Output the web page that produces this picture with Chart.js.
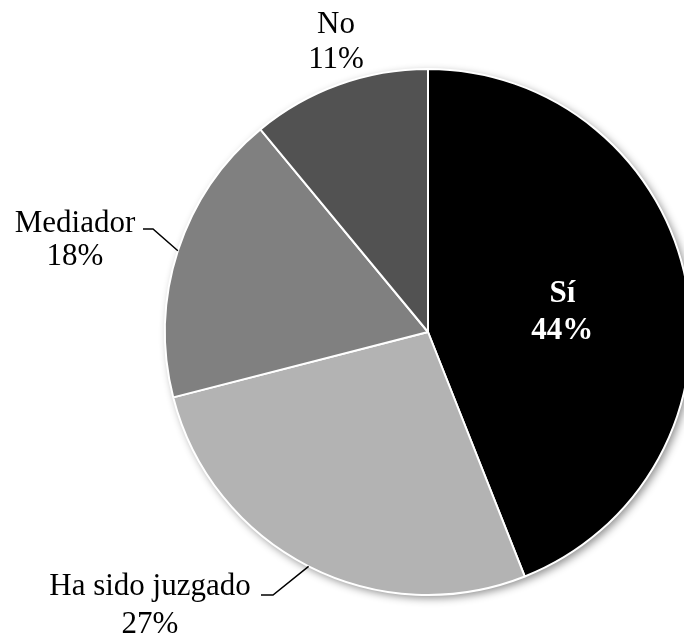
<!DOCTYPE html>
<html>
<head>
<meta charset="utf-8">
<script src="https://cdn.jsdelivr.net/npm/chart.js@4/dist/chart.umd.min.js"></script>
<style>
  html, body { margin: 0; padding: 0; background: #fff; overflow: hidden; width: 684px; height: 635px; }
  canvas { display: block; }
</style>
</head>
<body>
<canvas id="c" width="720" height="635"></canvas>
<script>
// Answers and their shares (%)
const categories = ['Sí', 'Ha sido juzgado', 'Mediador', 'No'];
const shares = [44, 27, 18, 11];
const sliceColors = ['#000000', '#b3b3b3', '#808080', '#525252'];

const FONT = '"Liberation Serif", "Times New Roman", serif';

// Soft drop shadow behind the whole pie
const pieShadow = {
  id: 'pieShadow',
  beforeDatasetsDraw(chart) {
    const arc = chart.getDatasetMeta(0).data[0];
    if (!arc) return;
    const ctx = chart.ctx;
    ctx.save();
    ctx.shadowColor = 'rgba(0,0,0,0.45)';
    ctx.shadowBlur = 9;
    ctx.shadowOffsetX = 3;
    ctx.shadowOffsetY = 3;
    ctx.beginPath();
    ctx.arc(arc.x, arc.y, arc.outerRadius, 0, Math.PI * 2);
    ctx.fillStyle = '#ffffff';
    ctx.fill();
    ctx.restore();
  }
};

// Category name + percentage labels, with leader lines for the outside ones
const sliceLabels = {
  id: 'sliceLabels',
  afterDatasetsDraw(chart, args, opts) {
    const ctx = chart.ctx;
    const meta = chart.getDatasetMeta(0);
    ctx.save();
    ctx.textAlign = 'center';
    ctx.textBaseline = 'alphabetic';
    opts.items.forEach((it, i) => {
      const arc = meta.data[i];
      const mid = (arc.startAngle + arc.endAngle) / 2;
      let cx, b1, b2;
      if (it.inside) {
        const p = arc.outerRadius * it.inside;
        cx = arc.x + Math.cos(mid) * p;
        const cy = arc.y + Math.sin(mid) * p;
        b1 = cy - 4; b2 = cy + 33;
        ctx.font = 'bold 31px ' + FONT;
        ctx.fillStyle = '#ffffff';
      } else {
        cx = it.x; b1 = it.b1; b2 = it.b2;
        ctx.font = '31px ' + FONT;
        ctx.fillStyle = '#000000';
      }
      ctx.fillText(categories[i], cx, b1);
      ctx.fillText(shares[i] + '%', cx, b2);
      if (it.leader) {
        const ex = arc.x + Math.cos(mid) * arc.outerRadius;
        const ey = arc.y + Math.sin(mid) * arc.outerRadius;
        ctx.beginPath();
        ctx.moveTo(it.leader[0], it.leader[1]);
        ctx.lineTo(it.leader[2], it.leader[1]);
        ctx.lineTo(ex, ey);
        ctx.strokeStyle = '#000000';
        ctx.lineWidth = 1.5;
        ctx.stroke();
      }
    });
    ctx.restore();
  }
};

new Chart(document.getElementById('c'), {
  type: 'pie',
  data: {
    labels: categories,
    datasets: [{
      data: shares,
      backgroundColor: sliceColors,
      borderColor: '#ffffff',
      borderWidth: 2
    }]
  },
  options: {
    responsive: false,
    animation: false,
    devicePixelRatio: 1,
    layout: { padding: { left: 164, right: 28, top: 68, bottom: 39 } },
    plugins: {
      legend: { display: false },
      tooltip: { enabled: false },
      sliceLabels: {
        items: [
          { inside: 0.52 },
          { x: 150, b1: 595, b2: 633, leader: [261, 595, 273] },
          { x: 75, b1: 232, b2: 265, leader: [143, 229, 153] },
          { x: 336, b1: 33, b2: 68 }
        ]
      }
    }
  },
  plugins: [pieShadow, sliceLabels]
});
</script>
</body>
</html>
